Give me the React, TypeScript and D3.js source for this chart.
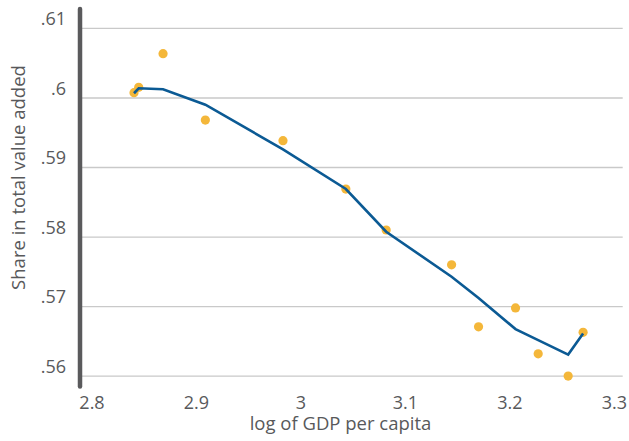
import React from "react";
import * as d3 from "d3";

const pointX = [2.8402, 2.8447, 2.868, 2.9085, 2.9828, 3.043, 3.0816, 3.1442, 3.170, 3.2054, 3.2271, 3.2558, 3.2701];
const pointY = [0.60076, 0.60154, 0.60637, 0.59683, 0.59386, 0.5869, 0.58101, 0.5760, 0.56709, 0.5698, 0.5632, 0.5600, 0.56629];
const fitX = [2.8402, 2.8447, 2.868, 2.9085, 2.9828, 3.043, 3.0816, 3.1442, 3.170, 3.2054, 3.2271, 3.2558, 3.2701];
const fitY = [0.60068, 0.6014, 0.60125, 0.59904, 0.59262, 0.58691, 0.58076, 0.57429, 0.57122, 0.56676, 0.56518, 0.56309, 0.56612];
const xTicks = [2.8, 2.9, 3.0, 3.1, 3.2, 3.3];
const xTickLabels = ["2.8", "2.9", "3", "3.1", "3.2", "3.3"];
const yTicks = [0.56, 0.57, 0.58, 0.59, 0.6, 0.61];
const yTickLabels = [".56", ".57", ".58", ".59", ".6", ".61"];

export default function App() {
  const W = 629, H = 441;
  const x = d3.scaleLinear().domain([2.7885, 3.308]).range([80, 622.7]);
  const y = d3.scaleLinear().domain([0.5585, 0.6128]).range([386.5, 9]);
  const font = "'Open Sans', 'Noto Sans', sans-serif";
  const textColor = "#58595b";
  const line = d3
    .line<number>()
    .x((_, i) => x(fitX[i]))
    .y((d) => y(d));
  return (
    <svg width={W} height={H} style={{ position: "absolute", left: 0, top: 0 }}>
      <rect width={W} height={H} fill="#fff" />
      {yTicks.map((t, i) => (
        <g key={i}>
          <line x1={82} x2={x(3.308)} y1={y(t)} y2={y(t)} stroke="#c9c9c9" strokeWidth={1.3} />
          <text x={66} y={y(t) - 3.3} textAnchor="end" fontFamily={font} fontSize={18} fill={textColor}>
            {yTickLabels[i]}
          </text>
        </g>
      ))}
      {xTicks.map((t, i) => (
        <text key={i} x={x(t)} y={409} textAnchor="middle" fontFamily={font} fontSize={18} fill={textColor}>
          {xTickLabels[i]}
        </text>
      ))}
      <line x1={80} x2={80} y1={y(0.6128)} y2={y(0.5585)} stroke="#5a5a5c" strokeWidth={4.5} strokeLinecap="round" />
      {pointX.map((px, i) => (
        <circle key={i} cx={x(px)} cy={y(pointY[i])} r={4.6} fill="#f4b73a" />
      ))}
      <path d={line(fitY) || ""} fill="none" stroke="#0b5a94" strokeWidth={2.6} strokeLinejoin="miter" />
      <text x={340.5} y={430} textAnchor="middle" fontFamily={font} fontSize={18.5} fill={textColor}>
        log of GDP per capita
      </text>
      <text
        transform="translate(25,177.5) rotate(-90)"
        textAnchor="middle"
        fontFamily={font}
        fontSize={18.5}
        fill={textColor}
      >
        Share in total value added
      </text>
    </svg>
  );
}
